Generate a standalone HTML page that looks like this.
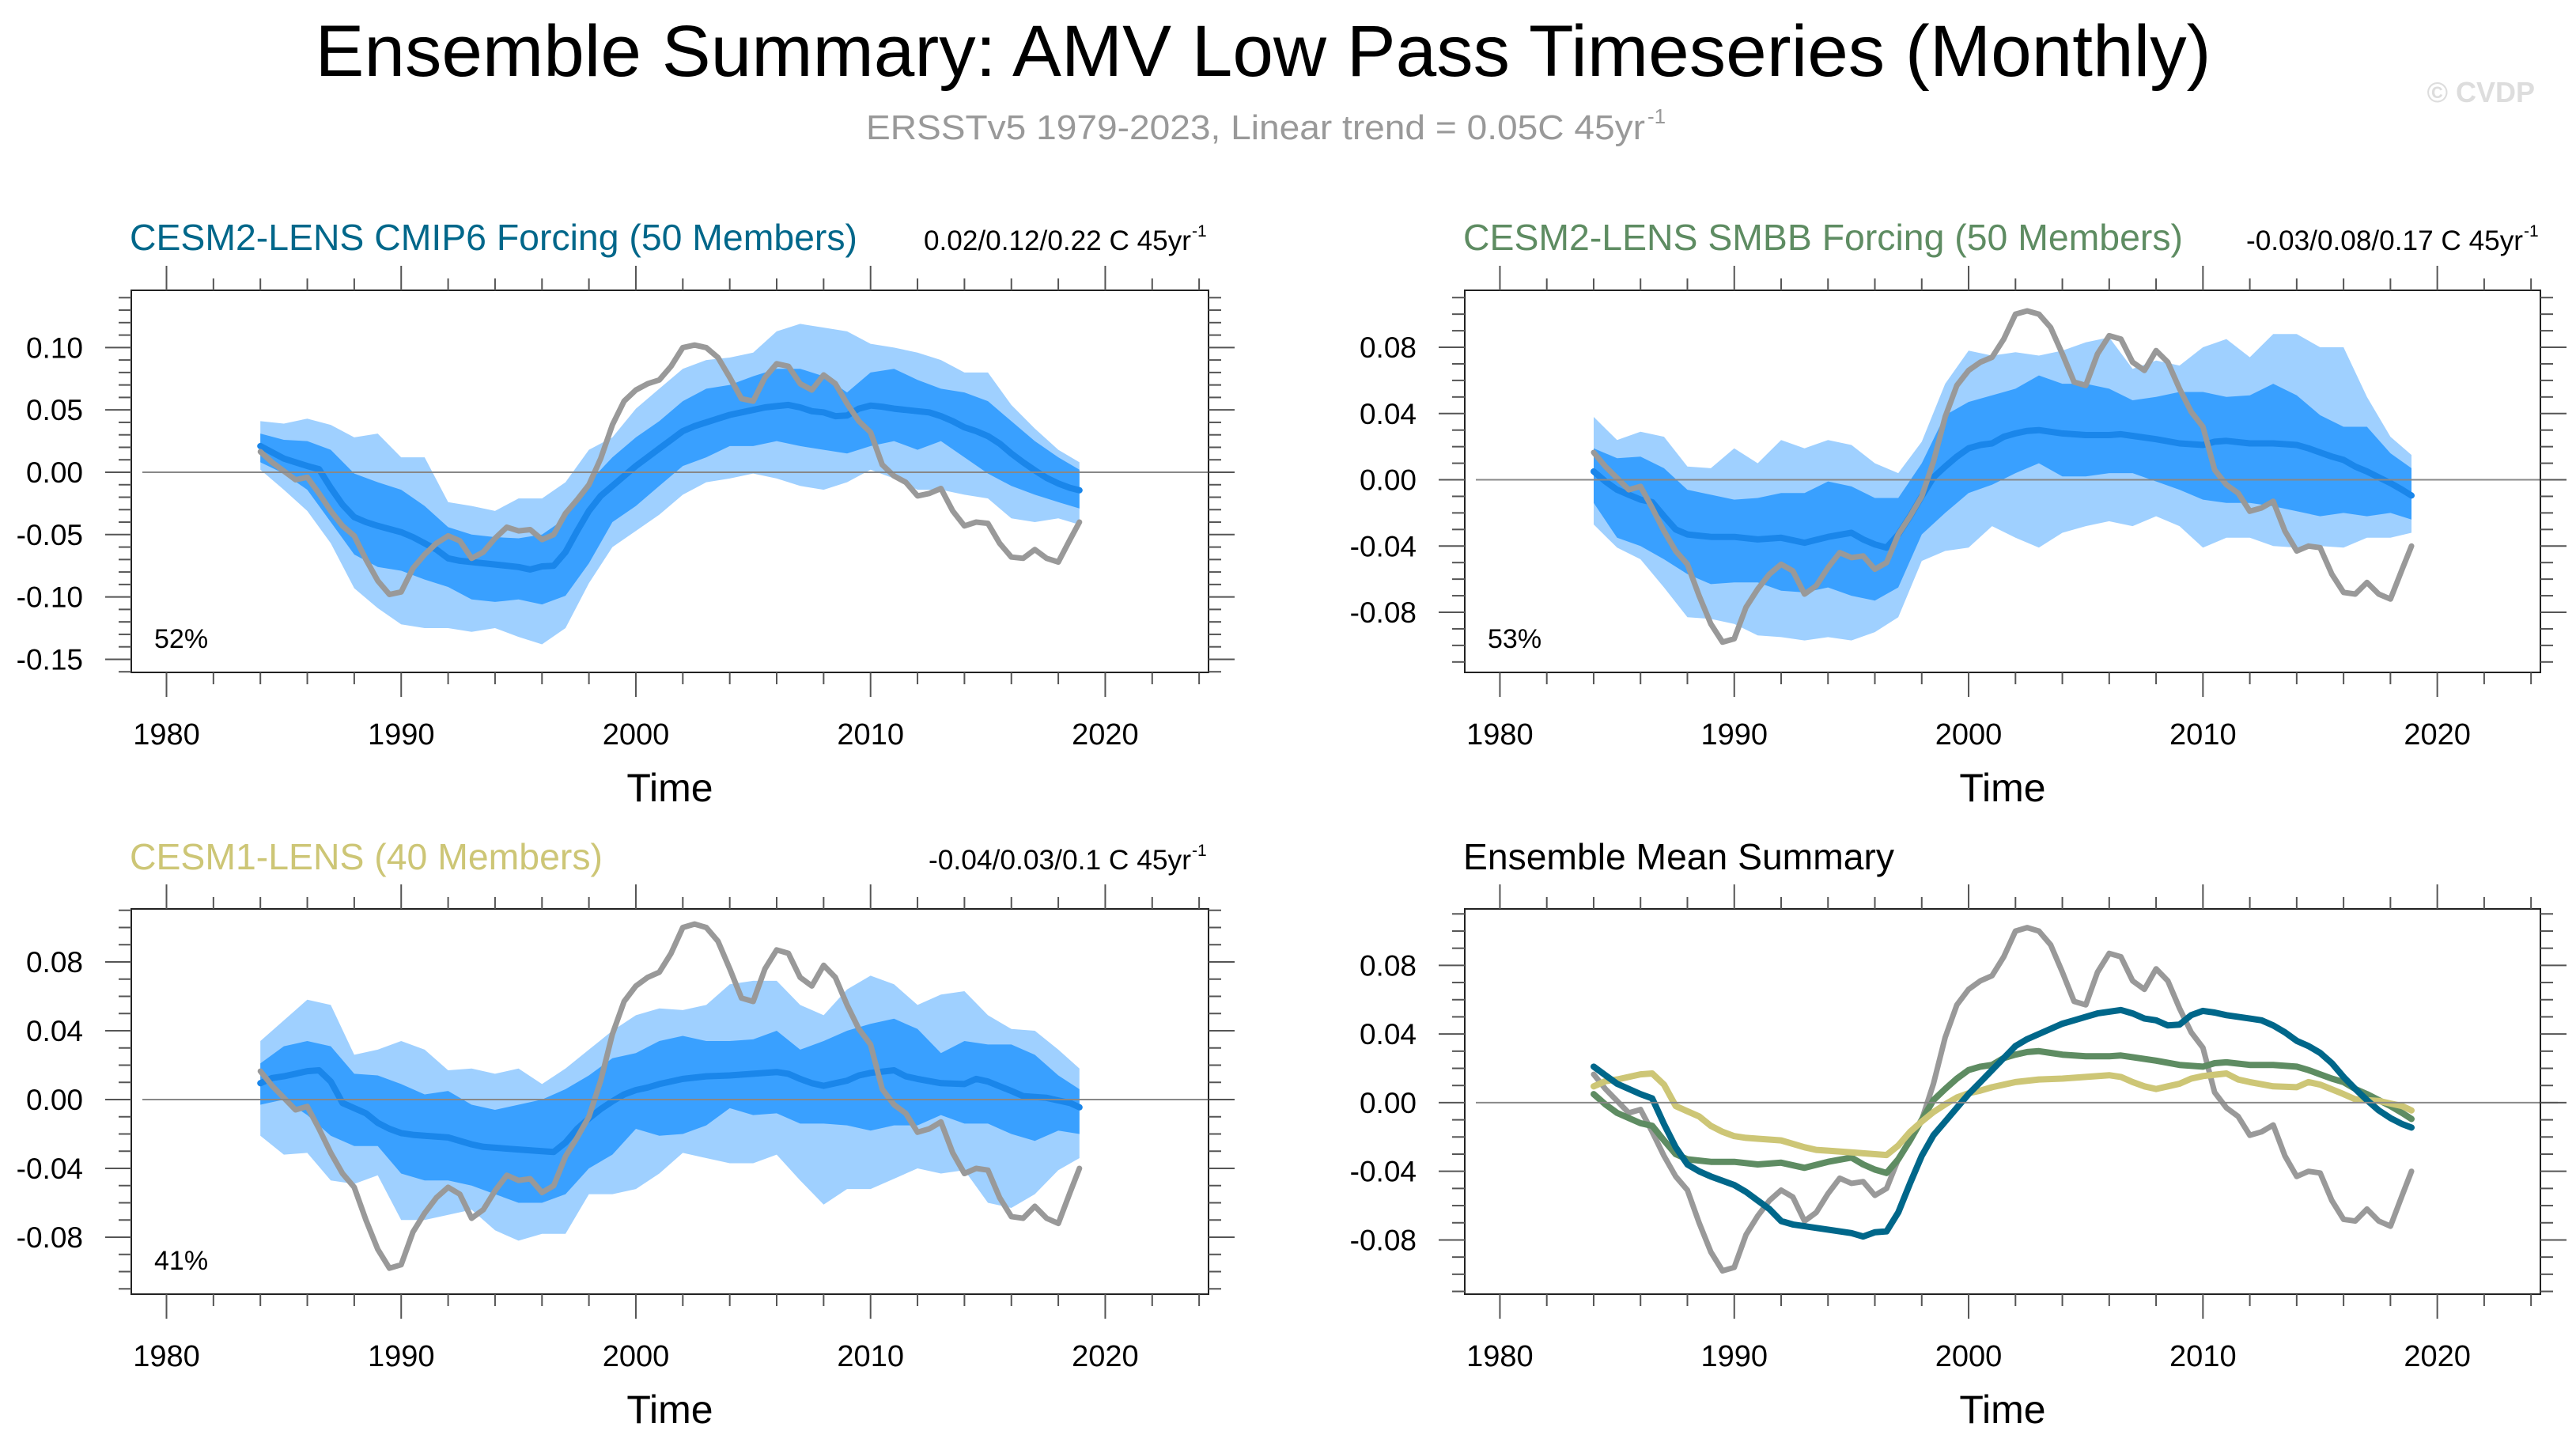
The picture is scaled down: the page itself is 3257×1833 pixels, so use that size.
<!DOCTYPE html>
<html><head><meta charset="utf-8"><title>AMV Low Pass Timeseries</title>
<style>html,body{margin:0;padding:0;background:#fff}svg{display:block}text{font-family:"Liberation Sans",sans-serif}</style>
</head><body>
<svg id="chart" width="3257" height="1833" viewBox="0 0 3257 1833" xmlns="http://www.w3.org/2000/svg">
<text x="1597" y="96" font-size="92" text-anchor="middle" textLength="2397" lengthAdjust="spacingAndGlyphs">Ensemble Summary: AMV Low Pass Timeseries (Monthly)</text>
<text x="1095" y="176" font-size="44" fill="#999" textLength="985" lengthAdjust="spacingAndGlyphs">ERSSTv5 1979-2023, Linear trend = 0.05C 45yr</text>
<text x="2083" y="156" font-size="26" fill="#999">-1</text>
<text x="3205" y="129" font-size="36" font-weight="bold" fill="#ddd" text-anchor="end">© CVDP</text>
<g id="panels"></g>
</svg>
<script>
// ---------- data ----------
const obsVal = [0.0165,0.008,0.001,-0.006,-0.004,-0.017,-0.031,-0.043,-0.051,-0.070,-0.087,-0.098,-0.096,-0.077,-0.066,-0.057,-0.051,-0.055,-0.069,-0.064,-0.053,-0.044,-0.047,-0.046,-0.054,-0.050,-0.033,-0.022,-0.010,0.011,0.038,0.057,0.066,0.071,0.074,0.085,0.100,0.102,0.100,0.092,0.076,0.059,0.057,0.076,0.087,0.085,0.071,0.066,0.078,0.071,0.055,0.041,0.032,0.006,-0.003,-0.008,-0.019,-0.017,-0.013,-0.031,-0.043,-0.040,-0.041,-0.057,-0.068,-0.069,-0.062,-0.069,-0.072,-0.054,-0.040];
const obsTime = [1984,1984.5,1985,1985.5,1986,1986.5,1987,1987.5,1988,1988.5,1989,1989.5,1990,1990.5,1991,1991.5,1992,1992.5,1993,1993.5,1994,1994.5,1995,1995.5,1996,1996.5,1997,1997.5,1998,1998.5,1999,1999.5,2000,2000.5,2001,2001.5,2002,2002.5,2003,2003.5,2004,2004.5,2005,2005.5,2006,2006.5,2007,2007.5,2008,2008.5,2009,2009.5,2010,2010.5,2011,2011.5,2012,2012.5,2013,2013.5,2014,2014.5,2015,2015.5,2016,2016.5,2017,2017.5,2018,2018.5,2018.9];

const cmip6Time = [1984,1985,1986,1986.5,1987,1987.5,1988,1988.5,1989,1990,1990.5,1991,1991.5,1992,1992.5,1993,1994,1995,1995.5,1996,1996.5,1997,1997.5,1998,1998.5,1999,1999.5,2000,2000.5,2001,2001.5,2002,2002.5,2003,2003.5,2004,2004.5,2005,2005.5,2006,2006.5,2007,2007.5,2008,2008.5,2009,2009.5,2010,2010.5,2011,2011.5,2012,2012.5,2013,2013.5,2014,2014.5,2015,2015.5,2016,2016.5,2017,2017.5,2018,2018.5,2018.9];
const cmip6Mean = [0.021,0.011,0.005,0.0025,-0.0125,-0.026,-0.036,-0.040,-0.043,-0.048,-0.052,-0.057,-0.062,-0.069,-0.071,-0.072,-0.074,-0.076,-0.078,-0.0755,-0.075,-0.064,-0.047,-0.031,-0.019,-0.011,-0.003,0.005,0.012,0.019,0.026,0.033,0.037,0.040,0.043,0.046,0.048,0.050,0.052,0.053,0.054,0.052,0.049,0.048,0.045,0.0455,0.051,0.0535,0.0525,0.051,0.050,0.049,0.048,0.045,0.041,0.036,0.033,0.029,0.023,0.015,0.008,0.0015,-0.0045,-0.009,-0.0125,-0.0145];

const smbbTime = [1984,1984.5,1985,1985.5,1986,1986.5,1987,1987.5,1988,1989,1990,1991,1992,1993,1994,1995,1995.5,1996,1996.5,1997,1997.5,1998,1998.5,1999,1999.5,2000,2000.5,2001,2001.5,2002,2002.5,2003,2003.5,2004,2005,2006,2006.5,2007,2008,2009,2010,2010.5,2011,2012,2013,2014,2014.5,2015,2015.5,2016,2016.5,2017,2017.5,2018,2018.5,2018.9];
const smbbMean = [0.005,-0.001,-0.006,-0.009,-0.012,-0.0135,-0.022,-0.030,-0.033,-0.0345,-0.0345,-0.036,-0.035,-0.038,-0.0345,-0.032,-0.036,-0.039,-0.041,-0.033,-0.022,-0.010,0.0015,0.008,0.014,0.019,0.021,0.022,0.026,0.028,0.0295,0.030,0.029,0.028,0.027,0.027,0.0275,0.0265,0.0245,0.022,0.021,0.023,0.0235,0.022,0.022,0.021,0.019,0.0165,0.014,0.012,0.008,0.005,0.0015,-0.002,-0.006,-0.0095];

const cesm1Time = [1984,1984.5,1985,1985.5,1986,1986.5,1987,1987.5,1988,1988.5,1989,1989.5,1990,1990.5,1991,1992,1993,1993.5,1994,1995,1996,1996.5,1997,1997.5,1998,1998.5,1999,1999.5,2000,2000.5,2001,2002,2003,2004,2005,2006,2006.5,2007,2007.5,2008,2008.5,2009,2009.5,2010,2011,2011.5,2012,2013,2014,2014.5,2015,2016,2016.5,2017,2017.5,2018,2018.5,2018.9];
const cesm1Mean = [0.0095,0.0125,0.0135,0.015,0.0165,0.017,0.0105,-0.002,-0.005,-0.008,-0.0135,-0.017,-0.0195,-0.0205,-0.021,-0.022,-0.026,-0.0275,-0.028,-0.029,-0.030,-0.0305,-0.025,-0.017,-0.011,-0.0055,-0.001,0.003,0.0055,0.007,0.009,0.012,0.0135,0.014,0.015,0.016,0.015,0.012,0.0095,0.008,0.0095,0.011,0.014,0.0155,0.017,0.0135,0.012,0.0095,0.009,0.012,0.0105,0.005,0.002,0.0015,0.001,-0.0005,-0.002,-0.0045];

const bandYears = [1984,1985,1986,1987,1988,1989,1990,1991,1992,1993,1994,1995,1996,1997,1998,1999,2000,2001,2002,2003,2004,2005,2006,2007,2008,2009,2010,2011,2012,2013,2014,2015,2016,2017,2018,2018.9];
const p1OuterHi = [0.041,0.039,0.043,0.038,0.028,0.031,0.012,0.012,-0.024,-0.027,-0.031,-0.021,-0.021,-0.008,0.018,0.028,0.051,0.067,0.083,0.090,0.092,0.096,0.113,0.119,0.116,0.113,0.103,0.100,0.096,0.090,0.080,0.080,0.054,0.035,0.018,0.008];
const p1InnerHi = [0.031,0.026,0.025,0.018,-0.001,-0.008,-0.014,-0.027,-0.044,-0.050,-0.052,-0.053,-0.050,-0.037,-0.008,0.012,0.028,0.041,0.057,0.067,0.070,0.077,0.083,0.083,0.077,0.064,0.080,0.083,0.074,0.067,0.064,0.057,0.041,0.025,0.012,0.002];
const p1InnerLo = [0.008,-0.001,-0.014,-0.040,-0.066,-0.076,-0.079,-0.086,-0.092,-0.102,-0.104,-0.102,-0.106,-0.099,-0.073,-0.040,-0.027,-0.011,0.005,0.012,0.021,0.021,0.025,0.021,0.018,0.015,0.021,0.025,0.018,0.025,0.012,-0.001,-0.011,-0.018,-0.024,-0.029];
const p1OuterLo = [0.002,-0.014,-0.031,-0.057,-0.093,-0.109,-0.122,-0.125,-0.125,-0.128,-0.125,-0.132,-0.138,-0.125,-0.089,-0.060,-0.047,-0.034,-0.018,-0.008,-0.005,-0.001,-0.005,-0.011,-0.014,-0.008,0.002,-0.005,-0.014,-0.014,-0.018,-0.021,-0.037,-0.040,-0.037,-0.042];
const p2OuterHi = [0.038,0.024,0.029,0.026,0.008,0.007,0.019,0.010,0.024,0.019,0.024,0.021,0.010,0.004,0.023,0.058,0.078,0.075,0.077,0.075,0.078,0.083,0.086,0.067,0.072,0.069,0.080,0.085,0.074,0.088,0.088,0.080,0.080,0.050,0.026,0.015];
const p2InnerHi = [0.019,0.013,0.014,0.007,-0.006,-0.009,-0.012,-0.011,-0.008,-0.008,-0.001,-0.004,-0.011,-0.011,0.010,0.039,0.047,0.051,0.055,0.063,0.058,0.058,0.055,0.048,0.050,0.053,0.053,0.050,0.051,0.058,0.051,0.039,0.032,0.032,0.016,0.007];
const p2InnerLo = [-0.014,-0.035,-0.040,-0.048,-0.057,-0.063,-0.062,-0.062,-0.067,-0.068,-0.065,-0.070,-0.073,-0.065,-0.033,-0.020,-0.008,-0.003,0.004,0.010,0.002,0.002,0.004,0.004,-0.001,-0.006,-0.012,-0.014,-0.014,-0.016,-0.019,-0.022,-0.020,-0.022,-0.020,-0.024];
const p2OuterLo = [-0.027,-0.041,-0.048,-0.065,-0.083,-0.084,-0.087,-0.094,-0.095,-0.097,-0.095,-0.097,-0.092,-0.083,-0.049,-0.043,-0.041,-0.028,-0.035,-0.041,-0.032,-0.028,-0.025,-0.028,-0.022,-0.028,-0.041,-0.035,-0.035,-0.040,-0.041,-0.040,-0.041,-0.035,-0.035,-0.032];
const p3OuterHi = [0.034,0.046,0.058,0.055,0.026,0.029,0.034,0.029,0.017,0.018,0.015,0.018,0.009,0.018,0.029,0.040,0.049,0.053,0.052,0.055,0.067,0.069,0.069,0.055,0.049,0.064,0.072,0.067,0.055,0.061,0.063,0.049,0.041,0.040,0.029,0.018];
const p3InnerHi = [0.021,0.031,0.034,0.031,0.015,0.014,0.009,0.003,0.005,-0.003,-0.006,-0.003,0.000,0.006,0.014,0.024,0.027,0.034,0.037,0.034,0.034,0.035,0.040,0.029,0.034,0.040,0.044,0.047,0.041,0.027,0.034,0.032,0.032,0.026,0.014,0.006];
const p3InnerLo = [-0.003,0.000,-0.009,-0.021,-0.027,-0.027,-0.043,-0.047,-0.047,-0.050,-0.055,-0.060,-0.060,-0.055,-0.040,-0.032,-0.017,-0.021,-0.020,-0.015,-0.005,-0.009,-0.008,-0.014,-0.014,-0.015,-0.018,-0.015,-0.015,-0.009,-0.014,-0.014,-0.020,-0.024,-0.018,-0.020];
const p3OuterLo = [-0.021,-0.032,-0.031,-0.047,-0.049,-0.044,-0.070,-0.070,-0.067,-0.064,-0.076,-0.082,-0.078,-0.078,-0.055,-0.055,-0.052,-0.043,-0.031,-0.034,-0.037,-0.037,-0.032,-0.047,-0.061,-0.052,-0.052,-0.046,-0.040,-0.043,-0.041,-0.060,-0.063,-0.055,-0.041,-0.034];

const xTickLabels = ["1980","1990","2000","2010","2020"];
const yTickLabelsTop = ["0.10","0.05","0.00","-0.05","-0.10","-0.15"];
const yTickLabelsOther = ["0.08","0.04","0.00","-0.04","-0.08"];

// ---------- drawing ----------
const NS = "http://www.w3.org/2000/svg";
const root = document.getElementById('panels');
function mk(tag, parent, attrs){const e=document.createElementNS(NS,tag);for(const k in attrs)e.setAttribute(k,attrs[k]);parent.appendChild(e);return e;}

const panels = [
 {id:'cmip6', x0:166,x1:1528,y0:367,y1:850,ymin:-0.1605,ymax:0.1459, yl:yTickLabelsTop, title:'CESM2-LENS CMIP6 Forcing (50 Members)', tcol:'#00678a', tlen:920, trend:'0.02/0.12/0.22 C 45yr', trlen:338, pct:'52%', bands:[p1OuterHi,p1InnerHi,p1InnerLo,p1OuterLo], mean:[cmip6Time,cmip6Mean]},
 {id:'smbb', x0:1852,x1:3212,y0:367,y1:850,ymin:-0.1163,ymax:0.1144, yl:yTickLabelsOther, title:'CESM2-LENS SMBB Forcing (50 Members)', tcol:'#5e8c62', tlen:910, trend:'-0.03/0.08/0.17 C 45yr', trlen:350, pct:'53%', bands:[p2OuterHi,p2InnerHi,p2InnerLo,p2OuterLo], mean:[smbbTime,smbbMean]},
 {id:'cesm1', x0:166,x1:1528,y0:1149,y1:1636,ymin:-0.1131,ymax:0.1108, yl:yTickLabelsOther, title:'CESM1-LENS (40 Members)', tcol:'#cdc676', tlen:598, trend:'-0.04/0.03/0.1 C 45yr', trlen:332, pct:'41%', bands:[p3OuterHi,p3InnerHi,p3InnerLo,p3OuterLo], mean:[cesm1Time,cesm1Mean]},
 {id:'summary', x0:1852,x1:3212,y0:1149,y1:1636,ymin:-0.1116,ymax:0.1129, yl:yTickLabelsOther, title:'Ensemble Mean Summary', tcol:'#000', tlen:545, trend:null, pct:null, bands:null, mean:null}
];
const XMIN=1978.5, XMAX=2024.4;

panels.forEach(p=>{
  const g = mk('g',root,{});
  
  
  const sx = t => p.x0 + (t-XMIN)/(XMAX-XMIN)*(p.x1-p.x0);
  const sy = v => p.y1 - (v-p.ymin)/(p.ymax-p.ymin)*(p.y1-p.y0);
  const top = p.y0===367;
  const titleY = top?316:1099;
  const t = mk('text',g,{x:p.x0-2,y:titleY,'font-size':46,fill:p.tcol,textLength:p.tlen,lengthAdjust:'spacingAndGlyphs'});
  t.textContent = p.title;
  
  
  if(p.trend){
    const tr = mk('text',g,{x:p.x1-22,y:titleY,'font-size':35,'text-anchor':'end',textLength:p.trlen,lengthAdjust:'spacingAndGlyphs'});
    tr.textContent = p.trend;
    
    
    const sup = mk('text',g,{x:p.x1-21,y:titleY-17,'font-size':21});
    sup.textContent='-1';
    
    
  }
  const cp = mk('clipPath',g,{id:'clip-'+p.id});
  mk('rect',cp,{x:p.x0,y:p.y0,width:p.x1-p.x0,height:p.y1-p.y0});
  const plot = mk('g',g,{'clip-path':'url(#clip-'+p.id+')'});
  
  
  function band(hi,lo,col,name){
    let d='M';
    bandYears.forEach((y,i)=>{d+=(i?'L':'')+sx(y).toFixed(1)+','+sy(hi[i]).toFixed(1);});
    for(let i=bandYears.length-1;i>=0;i--) d+='L'+sx(bandYears[i]).toFixed(1)+','+sy(lo[i]).toFixed(1);
    const e=mk('path',plot,{d:d+'Z',fill:col});
    
    
  }
  function line(ts,vs,col,w,name){
    const d = ts.map((tt,i)=>(i?'L':'M')+sx(tt).toFixed(1)+','+sy(vs[i]).toFixed(1)).join('');
    const e=mk('path',plot,{d:d,fill:'none',stroke:col,'stroke-width':w,'stroke-linejoin':'round','stroke-linecap':'round'});
    
    
  }
  if(p.bands){
    band(p.bands[0],p.bands[3],'#9fd0ff',p.id+'-outer-range-band');
    band(p.bands[1],p.bands[2],'#39a0ff',p.id+'-inner-range-band');
  }
  const z = mk('line',g,{x1:p.x0+14,x2:p.x1+22,y1:sy(0),y2:sy(0),stroke:'#888','stroke-width':2});
  
  
  if(p.bands){
    line(p.mean[0],p.mean[1],'#1a86ea',8,p.id+'-ensemble-mean-line');
    line(obsTime,obsVal,'#999',7,p.id+'-observed-line');
  } else {
    line(obsTime,obsVal,'#999',7,'summary-observed-line');
    line(smbbTime,smbbMean,'#5e8c62',8,'summary-smbb-mean-line');
    line(cesm1Time,cesm1Mean,'#cdc676',8,'summary-cesm1-mean-line');
    line(cmip6Time,cmip6Mean,'#00678a',8,'summary-cmip6-mean-line');
  }
  const fr = mk('rect',g,{x:p.x0,y:p.y0,width:p.x1-p.x0,height:p.y1-p.y0,fill:'none',stroke:'#222','stroke-width':2});
  
  
  const ax = mk('g',g,{stroke:'#555','stroke-width':2});
  
  
  for(let yr=1980; yr<=2024; yr+=2){
    const major = yr%10===0, L = major?31:15, X=sx(yr);
    mk('line',ax,{x1:X,x2:X,y1:p.y0,y2:p.y0-L});
    mk('line',ax,{x1:X,x2:X,y1:p.y1,y2:p.y1+L});
  }
  xTickLabels.forEach(lb=>{
    const e=mk('text',g,{x:sx(+lb),y:p.y1+91,'font-size':38,'text-anchor':'middle'});
    e.textContent=lb;
    
    
  });
  const xt = mk('text',g,{x:(p.x0+p.x1)/2,y:p.y1+163,'font-size':50,'text-anchor':'middle'});
  xt.textContent='Time';
  
  
  const ay = mk('g',g,{stroke:'#555','stroke-width':2});
  
  
  const majorVals = p.yl.map(Number);
  for(let k=Math.ceil(p.ymin*100); k<=Math.floor(p.ymax*100); k++){
    const v=k/100, Y=sy(v), major = majorVals.some(m=>Math.abs(m-v)<1e-6), L=major?33:16;
    mk('line',ay,{x1:p.x0,x2:p.x0-L,y1:Y,y2:Y});
    mk('line',ay,{x1:p.x1,x2:p.x1+L,y1:Y,y2:Y});
  }
  p.yl.forEach(lb=>{
    const e=mk('text',g,{x:p.x0-61,y:sy(+lb)+13,'font-size':37,'text-anchor':'end'});
    e.textContent=lb;
    
    
  });
  if(p.pct){
    const e=mk('text',g,{x:p.x0+29,y:p.y1-31,'font-size':34});
    e.textContent=p.pct;
    
    
  }
});
</script>
</body></html>
